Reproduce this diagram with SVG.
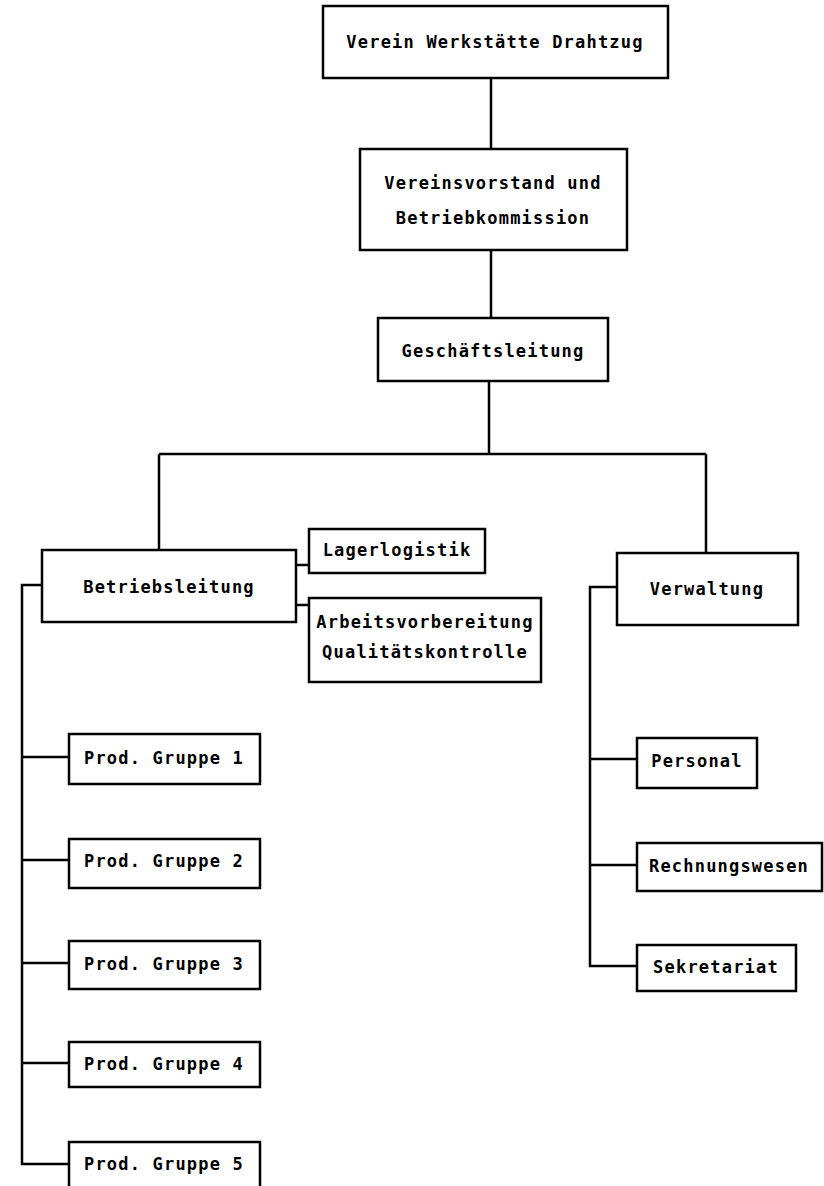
<svg xmlns="http://www.w3.org/2000/svg" width="824" height="1186" viewBox="0 0 824 1186">
<style>
.box{fill:#fff;stroke:#000;stroke-width:2.5}
.ln{fill:none;stroke:#000;stroke-width:2.5}
text{font-family:"DejaVu Sans Mono","Liberation Mono",monospace;font-size:17px;font-weight:bold;letter-spacing:1.2px;fill:#000;text-anchor:middle;dominant-baseline:central}
</style>
<rect width="824" height="1186" fill="#fff"/>
<g id="connectors">
<path class="ln" d="M491 78V149M491 250V318M489 381V454M159 454H706M159 454V550M706 454V553"/>
<path class="ln" d="M296 565H309M296 605H309"/>
<path class="ln" d="M42 585H22V1164H69M22 757H69M22 860H69M22 963H69M22 1063H69"/>
<path class="ln" d="M617 587H590V966H637M590 759H637M590 865H637"/>
</g>
<g id="n1"><rect class="box" x="323" y="6" width="345" height="72"/><text x="495" y="42">Verein Werkstätte Drahtzug</text></g>
<g id="n2"><rect class="box" x="360" y="149" width="267" height="101"/><text x="493" y="183">Vereinsvorstand und</text><text x="493" y="218">Betriebkommission</text></g>
<g id="n3"><rect class="box" x="378" y="318" width="230" height="63"/><text x="493" y="351">Geschäftsleitung</text></g>
<g id="n4"><rect class="box" x="42" y="550" width="254" height="72"/><text x="169" y="587">Betriebsleitung</text></g>
<g id="n5"><rect class="box" x="309" y="529" width="176" height="44"/><text x="397" y="550">Lagerlogistik</text></g>
<g id="n6"><rect class="box" x="309" y="598" width="232" height="84"/><text x="425" y="622">Arbeitsvorbereitung</text><text x="425" y="652">Qualitätskontrolle</text></g>
<g id="n7"><rect class="box" x="617" y="553" width="181" height="72"/><text x="707" y="589">Verwaltung</text></g>
<g id="n8"><rect class="box" x="69" y="734" width="191" height="50"/><text x="164" y="758">Prod. Gruppe 1</text></g>
<g id="n9"><rect class="box" x="69" y="839" width="191" height="49"/><text x="164" y="861">Prod. Gruppe 2</text></g>
<g id="n10"><rect class="box" x="69" y="941" width="191" height="48"/><text x="164" y="964">Prod. Gruppe 3</text></g>
<g id="n11"><rect class="box" x="69" y="1042" width="191" height="45"/><text x="164" y="1064">Prod. Gruppe 4</text></g>
<g id="n12"><rect class="box" x="69" y="1142" width="191" height="50"/><text x="164" y="1164">Prod. Gruppe 5</text></g>
<g id="n13"><rect class="box" x="637" y="738" width="120" height="50"/><text x="697" y="761">Personal</text></g>
<g id="n14"><rect class="box" x="637" y="843" width="185" height="48"/><text x="729" y="866">Rechnungswesen</text></g>
<g id="n15"><rect class="box" x="637" y="945" width="159" height="46"/><text x="716" y="967">Sekretariat</text></g>
</svg>
